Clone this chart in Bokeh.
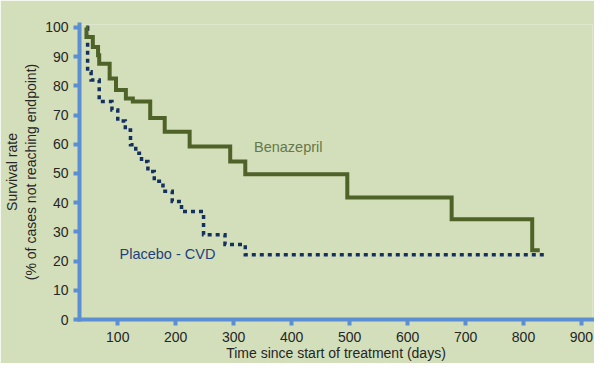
from bokeh.plotting import figure
from bokeh.models import ColumnDataSource, Label, FixedTicker, Range1d
from bokeh.embed import file_html
from bokeh.resources import INLINE

# ---- data ----
benazepril_days = [45, 46, 57, 66, 68, 86, 97, 114, 126, 156, 181, 224, 294, 320, 496, 676, 815, 828]
benazepril_rate = [100, 96.7, 93.3, 90.5, 87.6, 82.5, 78.6, 75.7, 74.6, 69.0, 64.3, 59.2, 54.1, 49.7, 41.8, 34.3, 23.7, 23.7]

placebo_days = [47, 48, 54, 68, 90, 100, 113, 122, 131, 141, 152, 163, 178, 194, 210, 248, 285, 320, 838]
placebo_rate = [100, 84.8, 82.0, 74.6, 71.7, 68.0, 64.9, 59.8, 56.9, 54.1, 50.7, 47.3, 43.9, 40.4, 37.0, 29.0, 25.7, 22.2, 22.2]

x_ticks = [100, 200, 300, 400, 500, 600, 700, 800, 900]
y_ticks = [0, 10, 20, 30, 40, 50, 60, 70, 80, 90, 100]

series_names = ["Benazepril", "Placebo - CVD"]
x_title = "Time since start of treatment (days)"
y_title = "Survival rate\n(% of cases not reaching endpoint)"

BG = "#d3dfba"
AXIS = "#5b8fd1"
GREEN = "#4f6228"
NAVY = "#14305f"
FONT = "Liberation Sans"

p = figure(width=594, height=363, output_backend="svg", toolbar_location=None,
           x_range=Range1d(34, 919), y_range=Range1d(0, 101),
           min_border_left=75, min_border_right=2, min_border_top=24, min_border_bottom=44)

p.background_fill_color = BG
p.border_fill_color = BG
p.outline_line_color = None
p.grid.visible = False

for ax in (p.xaxis[0], p.yaxis[0]):
    ax.axis_line_color = AXIS
    ax.axis_line_width = 4
    ax.axis_line_cap = "square"
    ax.major_tick_line_color = AXIS
    ax.major_tick_line_width = 4
    ax.major_tick_in = 0
    ax.minor_tick_line_color = None
    ax.major_label_text_font = FONT
    ax.major_label_text_font_size = "14px"
    ax.major_label_text_color = "#262626"
    ax.axis_label_text_font = FONT
    ax.axis_label_text_font_style = "normal"
    ax.axis_label_text_color = "#262626"

p.xaxis.ticker = FixedTicker(ticks=x_ticks)
p.yaxis.ticker = FixedTicker(ticks=y_ticks)
p.xaxis.major_tick_out = 6
p.yaxis.major_tick_out = 6
p.xaxis.major_label_standoff = 6
p.yaxis.major_label_standoff = 5
p.xaxis.axis_label = x_title
p.yaxis.axis_label = y_title
p.xaxis.axis_label_text_font_size = "14px"
p.yaxis.axis_label_text_font_size = "14px"
p.xaxis.axis_label_standoff = 0
p.yaxis.axis_label_standoff = 3

src_p = ColumnDataSource(dict(t=placebo_days, s=placebo_rate))
src_b = ColumnDataSource(dict(t=benazepril_days, s=benazepril_rate))

p.step(x="t", y="s", source=src_p, mode="after", line_color=NAVY, line_width=3.5,
       line_dash="4 4", line_join="miter")
p.step(x="t", y="s", source=src_b, mode="after", line_color=GREEN, line_width=4,
       line_join="miter")

p.add_layout(Label(x=335, y=59.2, text=series_names[0], text_baseline="middle",
                   text_font=FONT, text_font_size="14.5px", text_color="#66784a"))
p.add_layout(Label(x=103, y=22.3, text=series_names[1], text_baseline="middle",
                   text_font=FONT, text_font_size="14.5px", text_color="#1f417a"))

open("out.html", "w").write(file_html(p, INLINE))
